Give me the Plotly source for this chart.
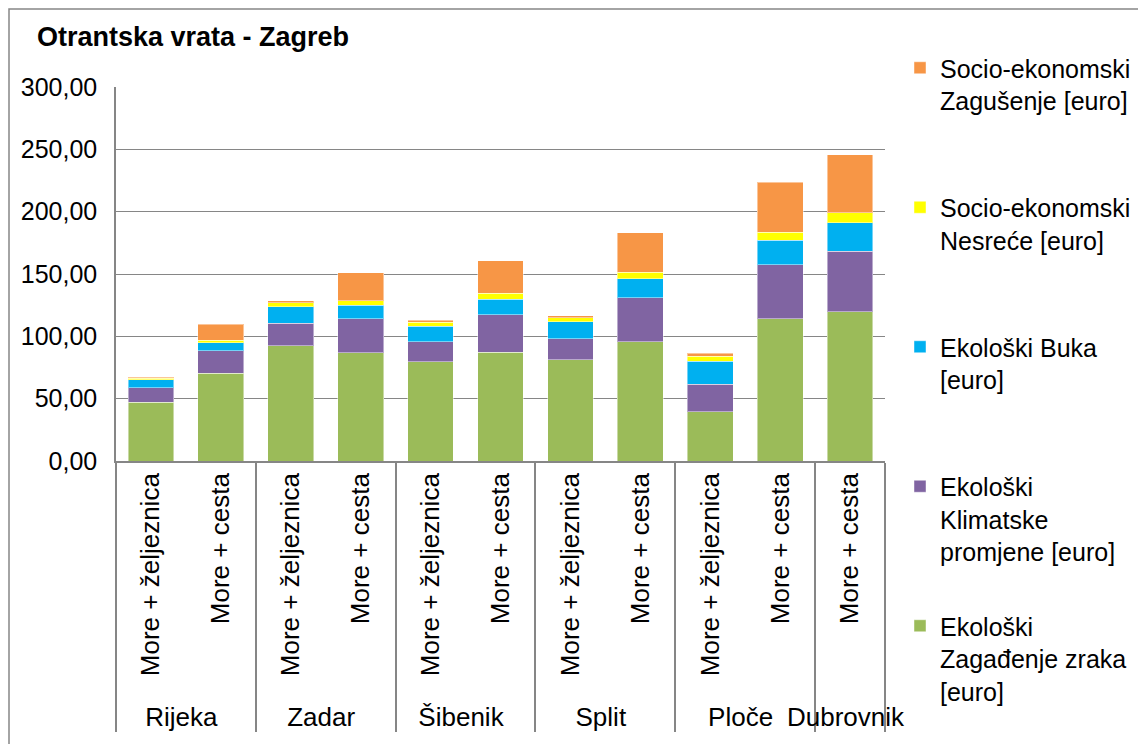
import plotly.graph_objects as go

groups = ["Rijeka", "Rijeka", "Zadar", "Zadar", "Šibenik", "Šibenik",
          "Split", "Split", "Ploče", "Ploče", "Dubrovnik"]
modes = ["More + željeznica", "More + cesta", "More + željeznica", "More + cesta",
         "More + željeznica", "More + cesta", "More + željeznica", "More + cesta",
         "More + željeznica", "More + cesta", "More + cesta"]

zagadjenje = [47.1, 70.5, 92.3, 87.0, 79.5, 87.4, 81.3, 95.6, 39.6, 114.0, 119.6]
klimatske = [11.7, 18.1, 18.1, 27.1, 16.2, 30.0, 16.7, 35.4, 21.8, 43.3, 48.8]
buka = [6.4, 6.1, 13.3, 10.9, 12.5, 12.5, 13.6, 15.1, 18.6, 19.6, 22.9]
nesrece = [1.3, 2.1, 3.4, 3.7, 3.2, 4.5, 3.4, 5.3, 4.2, 6.7, 8.0]
zagusenje = [0.8, 12.8, 1.6, 22.4, 1.4, 26.3, 1.6, 31.6, 2.4, 39.8, 46.4]

series = [
    ("Ekološki<br>Zagađenje zraka<br>[euro]", zagadjenje, "#9BBB59"),
    ("Ekološki<br>Klimatske<br>promjene [euro]", klimatske, "#8064A2"),
    ("Ekološki Buka<br>[euro]<br>\u00a0", buka, "#00B0F0"),
    ("Socio-ekonomski<br>Nesreće [euro]<br>\u00a0", nesrece, "#FFFF00"),
    ("Socio-ekonomski<br>Zagušenje [euro]<br>\u00a0", zagusenje, "#F79646"),
]

FONT = "Arial, Liberation Sans, sans-serif"
GRID = "#868686"

fig = go.Figure()
for i, (name, vals, col) in enumerate(series):
    fig.add_trace(go.Bar(
        x=[groups, modes], y=vals, name=name, legendgroup=f"g{i}",
        legendrank=len(series) - i,
        marker=dict(color=col, line=dict(color="rgba(255,255,255,0.45)", width=1)),
    ))

# page body has an 8px margin: figure pixel = page pixel - 8
OFF = 8
W, H = 1130, 736
L, R, T, B = 116 - OFF, 885 - OFF, 87 - OFF, 461.5 - OFF

def px_x(p):
    return (p - OFF - L) / (R - L)

def px_y(p):
    return (B - (p - OFF)) / (B - T)

fig.update_layout(
    width=W, height=H,
    margin=dict(l=L, r=W - R, t=T, b=H - B, autoexpand=False),
    barmode="stack", bargap=0.345,
    separators=", ",
    paper_bgcolor="white", plot_bgcolor="white",
    font=dict(family=FONT, size=25, color="#000000"),
    title=dict(text="<b>Otrantska vrata - Zagreb</b>", x=(37 - OFF) / W, xanchor="left",
               y=1 - (37 - OFF) / H, yanchor="middle", xref="container", yref="container",
               font=dict(family=FONT, size=27, color="#000000")),
    showlegend=True,
    legend=dict(x=px_x(900), xanchor="left", y=1 - (45 - OFF) / H, yref="container",
                yanchor="top", maxheight=700,
                traceorder="grouped", tracegroupgap=39, valign="top",
                font=dict(family=FONT, size=25, color="#000000"),
                bgcolor="rgba(0,0,0,0)"),
    yaxis=dict(range=[0, 300], dtick=50, tickformat=".2f", showgrid=True,
               gridcolor=GRID, gridwidth=1.3, showline=True, linecolor=GRID,
               linewidth=1.5, ticks="", ticklabelstandoff=12, zeroline=False,
               tickfont=dict(family=FONT, size=25)),
    xaxis=dict(type="multicategory", tickangle=-90, showline=True, linecolor=GRID,
               linewidth=1.5, showdividers=True, dividercolor=GRID, dividerwidth=1.5,
               tickfont=dict(family=FONT, size=26), ticks=""),
    shapes=[dict(type="rect", xref="paper", yref="paper",
                 x0=px_x(9), x1=px_x(1170), y0=px_y(780), y1=px_y(9),
                 line=dict(color=GRID, width=1.5), fillcolor="rgba(0,0,0,0)",
                 layer="below")],
)

fig.write_html("out.html")
